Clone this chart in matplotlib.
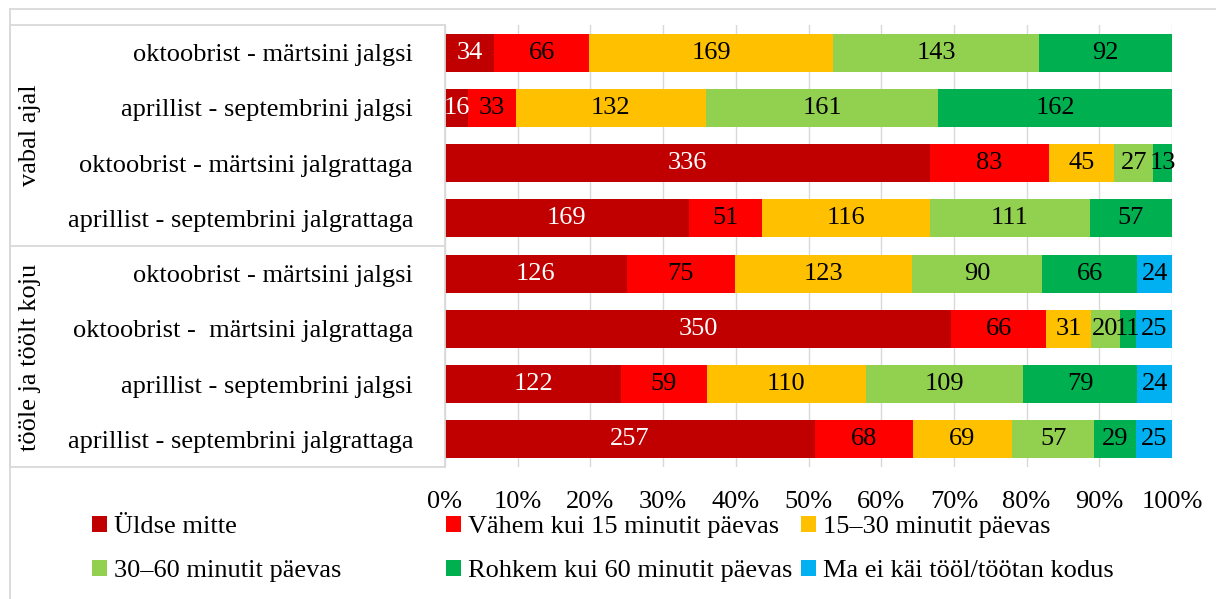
import matplotlib.pyplot as plt
import numpy as np
from matplotlib.lines import Line2D
from matplotlib.patches import Patch

plt.rcParams['font.family'] = ['Liberation Serif', 'DejaVu Serif']

# Data
rows = ['oktoobrist - märtsini jalgsi',
        'aprillist - septembrini jalgsi',
        'oktoobrist - märtsini jalgrattaga',
        'aprillist - septembrini jalgrattaga',
        'oktoobrist - märtsini jalgsi',
        'oktoobrist -  märtsini jalgrattaga',
        'aprillist - septembrini jalgsi',
        'aprillist - septembrini jalgrattaga']
groups = ['vabal ajal', 'tööle ja töölt koju']
series = ['Üldse mitte', 'Vähem kui 15 minutit päevas', '15–30 minutit päevas',
          '30–60 minutit päevas', 'Rohkem kui 60 minutit päevas', 'Ma ei käi tööl/töötan kodus']
uldse = [34, 16, 336, 169, 126, 350, 122, 257]
vahem = [66, 33, 83, 51, 75, 66, 59, 68]
min15_30 = [169, 132, 45, 116, 123, 31, 110, 69]
min30_60 = [143, 161, 27, 111, 90, 20, 109, 57]
rohkem = [92, 162, 13, 57, 66, 11, 79, 29]
ei_kai = [0, 0, 0, 0, 24, 25, 24, 25]

colors = ['#C00000', '#FF0000', '#FFC000', '#92D050', '#00B050', '#00B0F0']
text_colors = ['white', 'black', 'black', 'black', 'black', 'black']

counts = np.array([uldse, vahem, min15_30, min30_60, rohkem, ei_kai], dtype=float)
shares = counts / counts.sum(axis=0)

FS = 19
W, H = 1216, 599
fig = plt.figure(figsize=(W / 100, H / 100), dpi=100)
ax = fig.add_axes([445 / W, 1 - 467 / H, (1172 - 445) / W, (467 - 25) / H])

y = np.arange(len(rows))
left = np.zeros(len(rows))
for k in range(len(series)):
    ax.barh(y, shares[k], left=left, height=0.69, color=colors[k], zorder=2)
    for i in range(len(rows)):
        if counts[k, i] > 0:
            ax.text(left[i] + shares[k, i] / 2, y[i], str(int(counts[k, i])),
                    ha='center', va='center', fontsize=FS, color=text_colors[k], zorder=3)
    left += shares[k]

ax.set_xlim(0, 1)
ax.set_ylim(len(rows) - 0.5, -0.5)
ax.set_xticks(np.linspace(0, 1, 11))
ax.set_xticklabels([f'{int(v)}%' for v in np.linspace(0, 100, 11)], fontsize=FS)
ax.tick_params(axis='x', length=0, pad=17)
ax.set_yticks(y)
ax.set_yticklabels(rows, fontsize=FS)
ax.tick_params(axis='y', length=0, pad=23)
ax.grid(axis='x', color='#D9D9D9', linewidth=1, zorder=0)
for s in ax.spines.values():
    s.set_visible(False)

# table-like frame around category labels
def fline(x0, y0, x1, y1):
    fig.add_artist(Line2D([x0 / W, x1 / W], [1 - y0 / H, 1 - y1 / H],
                          color='#D9D9D9', linewidth=1.3))

fline(10, 25, 445, 25)
fline(10, 246, 445, 246)
fline(10, 467, 445, 467)
fline(10, 25, 10, 467)
fline(445, 25, 445, 467)
# outer chart border
fline(10, 9, 1216, 9)
fline(10, 9, 10, 599)

fig.text(30 / W, 1 - 135 / H, groups[0], rotation=90, ha='center', va='center', fontsize=FS)
fig.text(30 / W, 1 - 357 / H, groups[1], rotation=90, ha='center', va='center', fontsize=FS)

# legend, placed entry by entry like the original
legend_pos = [(92, 527), (446, 527), (801, 527), (92, 571), (446, 571), (801, 571)]
for k, (lx, ly) in enumerate(legend_pos):
    h = Patch(facecolor=colors[k], edgecolor='none')
    fig.legend(handles=[h], labels=[series[k]], loc='center left',
               bbox_to_anchor=(lx / W, 1 - ly / H), frameon=False, fontsize=FS,
               handlelength=0.55, handleheight=0.55, handletextpad=0.3, borderpad=0,
               borderaxespad=0)

fig.savefig('out.png', dpi=100)
